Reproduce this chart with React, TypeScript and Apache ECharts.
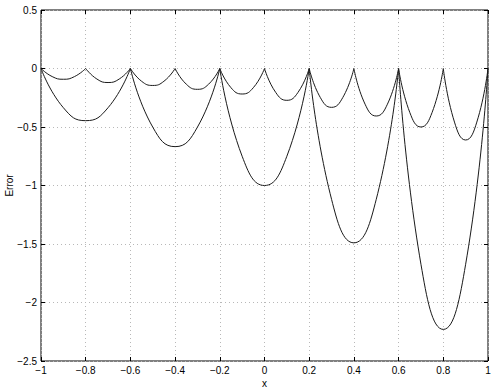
import React, { useEffect, useRef } from "react";
import * as echarts from "echarts";

// Interpolation nodes
const fineNodes = [-1, -0.8, -0.6, -0.4, -0.2, 0, 0.2, 0.4, 0.6, 0.8, 1];
const coarseNodes = [-1, -0.6, -0.2, 0.2, 0.6, 1];

// Error values read along each arc at 0, 1/4, 1/2, 3/4 and 1 of the arc width
const fineArcs = [
  [0, -0.069, -0.092, -0.069, 0],
  [0, -0.09, -0.12, -0.09, 0],
  [0, -0.109, -0.145, -0.109, 0],
  [0, -0.134, -0.178, -0.134, 0],
  [0, -0.164, -0.218, -0.164, 0],
  [0, -0.204, -0.272, -0.204, 0],
  [0, -0.249, -0.332, -0.249, 0],
  [0, -0.305, -0.406, -0.305, 0],
  [0, -0.375, -0.5, -0.375, 0],
  [0, -0.458, -0.611, -0.458, 0],
];
const coarseArcs = [
  [0, -0.335, -0.446, -0.335, 0],
  [0, -0.501, -0.668, -0.501, 0],
  [0, -0.75, -1.0, -0.75, 0],
  [0, -1.118, -1.49, -1.118, 0],
  [0, -1.673, -2.23, -1.673, 0],
];

const xTicks = [-1, -0.8, -0.6, -0.4, -0.2, 0, 0.2, 0.4, 0.6, 0.8, 1];
const yTicks = [0.5, 0, -0.5, -1, -1.5, -2, -2.5];

const FONT = "'Liberation Sans', Arial, Helvetica, sans-serif";

function arcSeries(nodes: number[], arcs: number[][]) {
  return arcs.map((ys, i) => {
    const x0 = nodes[i];
    const x1 = nodes[i + 1];
    const data = ys.map((y, j) => [x0 + ((x1 - x0) * j) / (ys.length - 1), y]);
    return {
      type: "line",
      data,
      smooth: 0.5,
      showSymbol: false,
      symbol: "none",
      xAxisIndex: 0,
      yAxisIndex: 0,
      lineStyle: { color: "#1a1a1a", width: 1 },
      silent: true,
    };
  });
}

const fmt = (v: number) => {
  const s = String(Math.round(v * 10) / 10);
  return s.replace("-", "\u2212");
};

export default function App() {
  const ref = useRef<HTMLDivElement>(null);
  useEffect(() => {
    if (!ref.current) return;
    const chart = echarts.init(ref.current, undefined, { renderer: "svg" });
    const splitLine = {
      show: true,
      lineStyle: { color: "#b8b8b8", type: [1, 3] as any, width: 1 },
    };
    const tick = { show: true, inside: true, length: 4, lineStyle: { color: "#000" } };
    const line = { show: false, onZero: false };
    chart.setOption({
      animation: false,
      backgroundColor: "#ffffff",
      grid: {
        left: 41,
        right: 6,
        top: 10,
        bottom: 29,
        containLabel: false,
        outerBoundsMode: "none",
        show: true,
        borderColor: "#000",
        borderWidth: 1,
        backgroundColor: "transparent",
      },
      xAxis: [
        {
          type: "value",
          min: xTicks[0],
          max: xTicks[xTicks.length - 1],
          interval: 0.2,
          name: "x",
          nameLocation: "middle",
          nameGap: 17,
          nameMoveOverlap: false,
          nameTextStyle: { fontFamily: FONT, fontSize: 10, color: "#000" },
          axisLine: line,
          axisTick: tick,
          axisLabel: { fontFamily: FONT, fontSize: 10, color: "#000", margin: 4, formatter: fmt },
          splitLine,
        },
        {
          type: "value",
          position: "top",
          min: xTicks[0],
          max: xTicks[xTicks.length - 1],
          interval: 0.2,
          axisLine: line,
          axisTick: tick,
          axisLabel: { show: false },
          splitLine: { show: false },
        },
      ],
      yAxis: [
        {
          type: "value",
          min: yTicks[yTicks.length - 1],
          max: yTicks[0],
          interval: 0.5,
          name: "Error",
          nameLocation: "middle",
          nameGap: 27,
          nameMoveOverlap: false,
          nameRotate: 90,
          nameTextStyle: { fontFamily: FONT, fontSize: 10, color: "#000" },
          axisLine: line,
          axisTick: tick,
          axisLabel: { fontFamily: FONT, fontSize: 10, color: "#000", margin: 4, formatter: fmt },
          splitLine,
        },
        {
          type: "value",
          position: "right",
          min: yTicks[yTicks.length - 1],
          max: yTicks[0],
          interval: 0.5,
          axisLine: line,
          axisTick: tick,
          axisLabel: { show: false },
          splitLine: { show: false },
        },
      ],
      series: [...arcSeries(fineNodes, fineArcs), ...arcSeries(coarseNodes, coarseArcs)],
    });
    return () => chart.dispose();
  }, []);
  return <div ref={ref} style={{ width: 494, height: 390, position: "absolute", left: 0, top: 0 }} />;
}
